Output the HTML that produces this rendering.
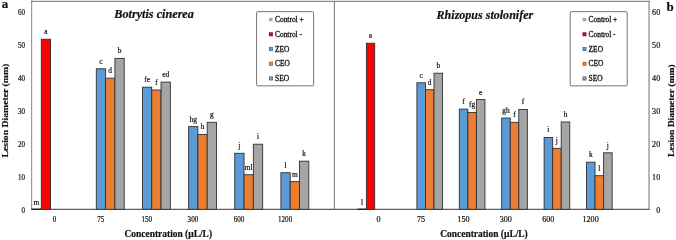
<!DOCTYPE html>
<html lang="en"><head><meta charset="utf-8"><title>Lesion diameter charts</title>
<style>
html,body{margin:0;padding:0;background:#fff;}
body{width:676px;height:240px;overflow:hidden;}
svg{display:block;}
text{font-family:"Liberation Serif",serif;fill:#111;stroke:#111;stroke-width:0.2px;}
.lb{font-size:7.4px;text-anchor:middle;}
.tk{font-size:7.9px;text-anchor:middle;}
.tkb{font-size:8.1px;text-anchor:middle;}
.tkeb{font-size:8.1px;text-anchor:end;}
.tke{font-size:7.9px;text-anchor:end;}
.ax{font-size:9.9px;font-weight:bold;text-anchor:middle;}
.tt{font-size:11.5px;font-weight:bold;font-style:italic;text-anchor:middle;}
.pn{font-size:13px;font-weight:bold;}
.lg{font-size:8.6px;stroke-width:0.32px;}
</style></head><body>
<svg width="676" height="240" viewBox="0 0 676 240">
<rect width="676" height="240" fill="#fff"/>
<line x1="31.65" y1="0.8" x2="31.65" y2="209.9" stroke="#8c8c8c" stroke-width="1.05"/>
<line x1="649.05" y1="0.8" x2="649.05" y2="209.9" stroke="#7c7c7c" stroke-width="1.1"/>
<line x1="31.1" y1="1.3" x2="649.6" y2="1.3" stroke="#6e6e6e" stroke-width="1"/>
<line x1="334.35" y1="1.3" x2="334.35" y2="209.3" stroke="#5a5a5a" stroke-width="0.85"/>
<line x1="31.1" y1="209.35" x2="649.6" y2="209.35" stroke="#5e5e5e" stroke-width="1.1"/>
<rect x="41.30" y="39.28" width="9.25" height="170.02" fill="#ff0000" stroke="#303030" stroke-width="0.9"/>
<rect x="96.30" y="68.77" width="9.30" height="140.53" fill="#5b9bd5" stroke="#303030" stroke-width="0.9"/>
<rect x="105.60" y="78.16" width="9.30" height="131.14" fill="#ed7d31" stroke="#303030" stroke-width="0.9"/>
<rect x="114.90" y="58.39" width="9.30" height="150.91" fill="#a5a5a5" stroke="#303030" stroke-width="0.9"/>
<rect x="142.45" y="87.19" width="9.30" height="122.11" fill="#5b9bd5" stroke="#303030" stroke-width="0.9"/>
<rect x="151.75" y="90.02" width="9.30" height="119.28" fill="#ed7d31" stroke="#303030" stroke-width="0.9"/>
<rect x="161.05" y="82.11" width="9.30" height="127.19" fill="#a5a5a5" stroke="#303030" stroke-width="0.9"/>
<rect x="188.60" y="126.60" width="9.30" height="82.70" fill="#5b9bd5" stroke="#303030" stroke-width="0.9"/>
<rect x="197.90" y="134.50" width="9.30" height="74.80" fill="#ed7d31" stroke="#303030" stroke-width="0.9"/>
<rect x="207.20" y="122.31" width="9.30" height="86.99" fill="#a5a5a5" stroke="#303030" stroke-width="0.9"/>
<rect x="234.75" y="153.29" width="9.30" height="56.01" fill="#5b9bd5" stroke="#303030" stroke-width="0.9"/>
<rect x="244.05" y="174.70" width="9.30" height="34.60" fill="#ed7d31" stroke="#303030" stroke-width="0.9"/>
<rect x="253.35" y="144.22" width="9.30" height="65.08" fill="#a5a5a5" stroke="#303030" stroke-width="0.9"/>
<rect x="280.90" y="172.73" width="9.30" height="36.57" fill="#5b9bd5" stroke="#303030" stroke-width="0.9"/>
<rect x="290.20" y="181.62" width="9.30" height="27.68" fill="#ed7d31" stroke="#303030" stroke-width="0.9"/>
<rect x="299.50" y="161.19" width="9.30" height="48.11" fill="#a5a5a5" stroke="#303030" stroke-width="0.9"/>
<rect x="366.40" y="43.23" width="8.30" height="166.07" fill="#ff0000" stroke="#303030" stroke-width="0.9"/>
<line x1="357.4" y1="209.25" x2="366.2" y2="209.25" stroke="#1a1a1a" stroke-width="1.3"/>
<line x1="31.6" y1="209.25" x2="41.3" y2="209.25" stroke="#1a1a1a" stroke-width="1.3"/>
<rect x="416.90" y="82.77" width="8.55" height="126.53" fill="#5b9bd5" stroke="#303030" stroke-width="0.9"/>
<rect x="425.45" y="89.69" width="8.55" height="119.61" fill="#ed7d31" stroke="#303030" stroke-width="0.9"/>
<rect x="434.00" y="73.22" width="8.55" height="136.08" fill="#a5a5a5" stroke="#303030" stroke-width="0.9"/>
<rect x="459.30" y="109.13" width="8.55" height="100.17" fill="#5b9bd5" stroke="#303030" stroke-width="0.9"/>
<rect x="467.85" y="112.43" width="8.55" height="96.87" fill="#ed7d31" stroke="#303030" stroke-width="0.9"/>
<rect x="476.40" y="99.58" width="8.55" height="109.72" fill="#a5a5a5" stroke="#303030" stroke-width="0.9"/>
<rect x="501.70" y="118.03" width="8.55" height="91.27" fill="#5b9bd5" stroke="#303030" stroke-width="0.9"/>
<rect x="510.25" y="122.31" width="8.55" height="86.99" fill="#ed7d31" stroke="#303030" stroke-width="0.9"/>
<rect x="518.80" y="109.46" width="8.55" height="99.84" fill="#a5a5a5" stroke="#303030" stroke-width="0.9"/>
<rect x="544.10" y="137.47" width="8.55" height="71.83" fill="#5b9bd5" stroke="#303030" stroke-width="0.9"/>
<rect x="552.65" y="148.34" width="8.55" height="60.96" fill="#ed7d31" stroke="#303030" stroke-width="0.9"/>
<rect x="561.20" y="121.98" width="8.55" height="87.32" fill="#a5a5a5" stroke="#303030" stroke-width="0.9"/>
<rect x="586.50" y="162.18" width="8.55" height="47.12" fill="#5b9bd5" stroke="#303030" stroke-width="0.9"/>
<rect x="595.05" y="175.69" width="8.55" height="33.61" fill="#ed7d31" stroke="#303030" stroke-width="0.9"/>
<rect x="603.60" y="152.79" width="8.55" height="56.51" fill="#a5a5a5" stroke="#303030" stroke-width="0.9"/>
<text class="lb" x="46.0" y="34.2">a</text>
<text class="lb" x="36.3" y="204.6">m</text>
<text class="lb" x="101.0" y="63.7">c</text>
<text class="lb" x="110.2" y="73.1">d</text>
<text class="lb" x="119.6" y="53.3">b</text>
<text class="lb" x="147.1" y="82.1">fe</text>
<text class="lb" x="156.4" y="84.9">f</text>
<text class="lb" x="165.7" y="77.0">ed</text>
<text class="lb" x="193.2" y="121.5">hg</text>
<text class="lb" x="202.6" y="129.4">h</text>
<text class="lb" x="211.8" y="117.2">g</text>
<text class="lb" x="239.4" y="148.2">j</text>
<text class="lb" x="248.7" y="169.6">ml</text>
<text class="lb" x="258.0" y="139.1">i</text>
<text class="lb" x="285.5" y="167.6">l</text>
<text class="lb" x="294.8" y="176.5">m</text>
<text class="lb" x="304.1" y="156.1">k</text>
<text class="lb" x="370.3" y="38.1">a</text>
<text class="lb" x="362.0" y="204.6">l</text>
<text class="lb" x="421.2" y="77.7">c</text>
<text class="lb" x="429.7" y="84.6">d</text>
<text class="lb" x="438.3" y="68.1">b</text>
<text class="lb" x="463.6" y="104.0">f</text>
<text class="lb" x="472.1" y="107.3">fg</text>
<text class="lb" x="480.7" y="94.5">e</text>
<text class="lb" x="506.0" y="112.9">gh</text>
<text class="lb" x="514.5" y="117.2">f</text>
<text class="lb" x="523.1" y="104.4">f</text>
<text class="lb" x="548.4" y="132.4">i</text>
<text class="lb" x="556.9" y="143.2">j</text>
<text class="lb" x="565.5" y="116.9">h</text>
<text class="lb" x="590.8" y="157.1">k</text>
<text class="lb" x="599.3" y="170.6">l</text>
<text class="lb" x="607.9" y="147.7">j</text>
<text class="tke" transform="translate(24.9,212.5) scale(0.88,1)">0</text>
<text class="tkeb" x="660.2" y="212.5">0</text>
<text class="tke" transform="translate(24.9,179.6) scale(0.88,1)">10</text>
<text class="tkeb" x="660.2" y="179.6">10</text>
<text class="tke" transform="translate(24.9,146.6) scale(0.88,1)">20</text>
<text class="tkeb" x="660.2" y="146.6">20</text>
<text class="tke" transform="translate(24.9,113.7) scale(0.88,1)">30</text>
<text class="tkeb" x="660.2" y="113.7">30</text>
<text class="tke" transform="translate(24.9,80.7) scale(0.88,1)">40</text>
<text class="tkeb" x="660.2" y="80.7">40</text>
<text class="tke" transform="translate(24.9,47.8) scale(0.88,1)">50</text>
<text class="tkeb" x="660.2" y="47.8">50</text>
<text class="tke" transform="translate(24.9,14.8) scale(0.88,1)">60</text>
<text class="tkeb" x="660.2" y="14.8">60</text>
<text class="tk" transform="translate(54.6,221.6) scale(0.9,1)">0</text>
<text class="tkb" x="378.6" y="222.0">0</text>
<text class="tk" transform="translate(100.7,221.6) scale(0.9,1)">75</text>
<text class="tkb" x="421.0" y="222.0">75</text>
<text class="tk" transform="translate(146.8,221.6) scale(0.9,1)">150</text>
<text class="tkb" x="463.4" y="222.0">150</text>
<text class="tk" transform="translate(192.9,221.6) scale(0.9,1)">300</text>
<text class="tkb" x="505.8" y="222.0">300</text>
<text class="tk" transform="translate(239.0,221.6) scale(0.9,1)">600</text>
<text class="tkb" x="548.2" y="222.0">600</text>
<text class="tk" transform="translate(285.1,221.6) scale(0.9,1)">1200</text>
<text class="tkb" x="590.6" y="222.0">1200</text>
<text class="ax" x="168.3" y="237.4" textLength="87.5" lengthAdjust="spacingAndGlyphs">Concentration (µL/L)</text>
<text class="ax" x="484" y="237.4" textLength="87.5" lengthAdjust="spacingAndGlyphs">Concentration (µL/L)</text>
<text class="ax" transform="translate(7.7,110.6) rotate(-90) scale(1,0.9)" x="0" y="0" textLength="93.7" lengthAdjust="spacingAndGlyphs">Lesion Diameter (mm)</text>
<text class="ax" transform="translate(673.7,110.65) rotate(-90) scale(1,0.92)" x="0" y="0" textLength="92.5" lengthAdjust="spacingAndGlyphs">Lesion Diameter (mm)</text>
<text class="tt" x="154.1" y="18.45" textLength="79.6" lengthAdjust="spacingAndGlyphs">Botrytis cinerea</text>
<text class="tt" x="484.9" y="18.6" textLength="96.6" lengthAdjust="spacingAndGlyphs">Rhizopus stolonifer</text>
<text class="pn" x="1.7" y="7.7">a</text>
<text class="pn" x="666.4" y="11.2">b</text>
<rect x="256.6" y="11.65" width="57" height="74.2" rx="1" fill="#fff" stroke="#5c5c5c" stroke-width="0.85"/>
<rect x="269.10" y="17.90" width="3.5" height="3.4" fill="#82b9a9"/>
<text class="lg" x="275.0" y="22.1" textLength="28.7" lengthAdjust="spacingAndGlyphs">Control +</text>
<rect x="269.35" y="32.77" width="3.1" height="3.1" fill="#c8101c" stroke="#8a0a12" stroke-width="0.8"/>
<text class="lg" x="275.0" y="36.8" textLength="27" lengthAdjust="spacingAndGlyphs">Control -</text>
<rect x="269.35" y="47.49" width="3.1" height="3.1" fill="#5b9bd5" stroke="#2a6cb0" stroke-width="0.8"/>
<text class="lg" x="275.0" y="51.5" textLength="14.4" lengthAdjust="spacingAndGlyphs">ZEO</text>
<rect x="269.35" y="62.21" width="3.1" height="3.1" fill="#ed7d31" stroke="#b85a18" stroke-width="0.8"/>
<text class="lg" x="275.0" y="66.3" textLength="14.8" lengthAdjust="spacingAndGlyphs">CEO</text>
<rect x="269.35" y="76.93" width="3.1" height="3.1" fill="#a5a5a5" stroke="#5a5a5a" stroke-width="0.8"/>
<text class="lg" x="275.0" y="81.0" textLength="14.1" lengthAdjust="spacingAndGlyphs">SEO</text>
<rect x="570.2" y="11.65" width="57" height="74.2" rx="1" fill="#fff" stroke="#5c5c5c" stroke-width="0.85"/>
<rect x="582.70" y="17.90" width="3.5" height="3.4" fill="#82b9a9"/>
<text class="lg" x="588.6" y="22.1" textLength="28.7" lengthAdjust="spacingAndGlyphs">Control +</text>
<rect x="582.95" y="32.77" width="3.1" height="3.1" fill="#c8101c" stroke="#8a0a12" stroke-width="0.8"/>
<text class="lg" x="588.6" y="36.8" textLength="27" lengthAdjust="spacingAndGlyphs">Control -</text>
<rect x="582.95" y="47.49" width="3.1" height="3.1" fill="#5b9bd5" stroke="#2a6cb0" stroke-width="0.8"/>
<text class="lg" x="588.6" y="51.5" textLength="14.4" lengthAdjust="spacingAndGlyphs">ZEO</text>
<rect x="582.95" y="62.21" width="3.1" height="3.1" fill="#ed7d31" stroke="#b85a18" stroke-width="0.8"/>
<text class="lg" x="588.6" y="66.3" textLength="14.8" lengthAdjust="spacingAndGlyphs">CEO</text>
<rect x="582.95" y="76.93" width="3.1" height="3.1" fill="#a5a5a5" stroke="#5a5a5a" stroke-width="0.8"/>
<text class="lg" x="588.6" y="81.0" textLength="14.1" lengthAdjust="spacingAndGlyphs">SEO</text>
</svg>
</body></html>
